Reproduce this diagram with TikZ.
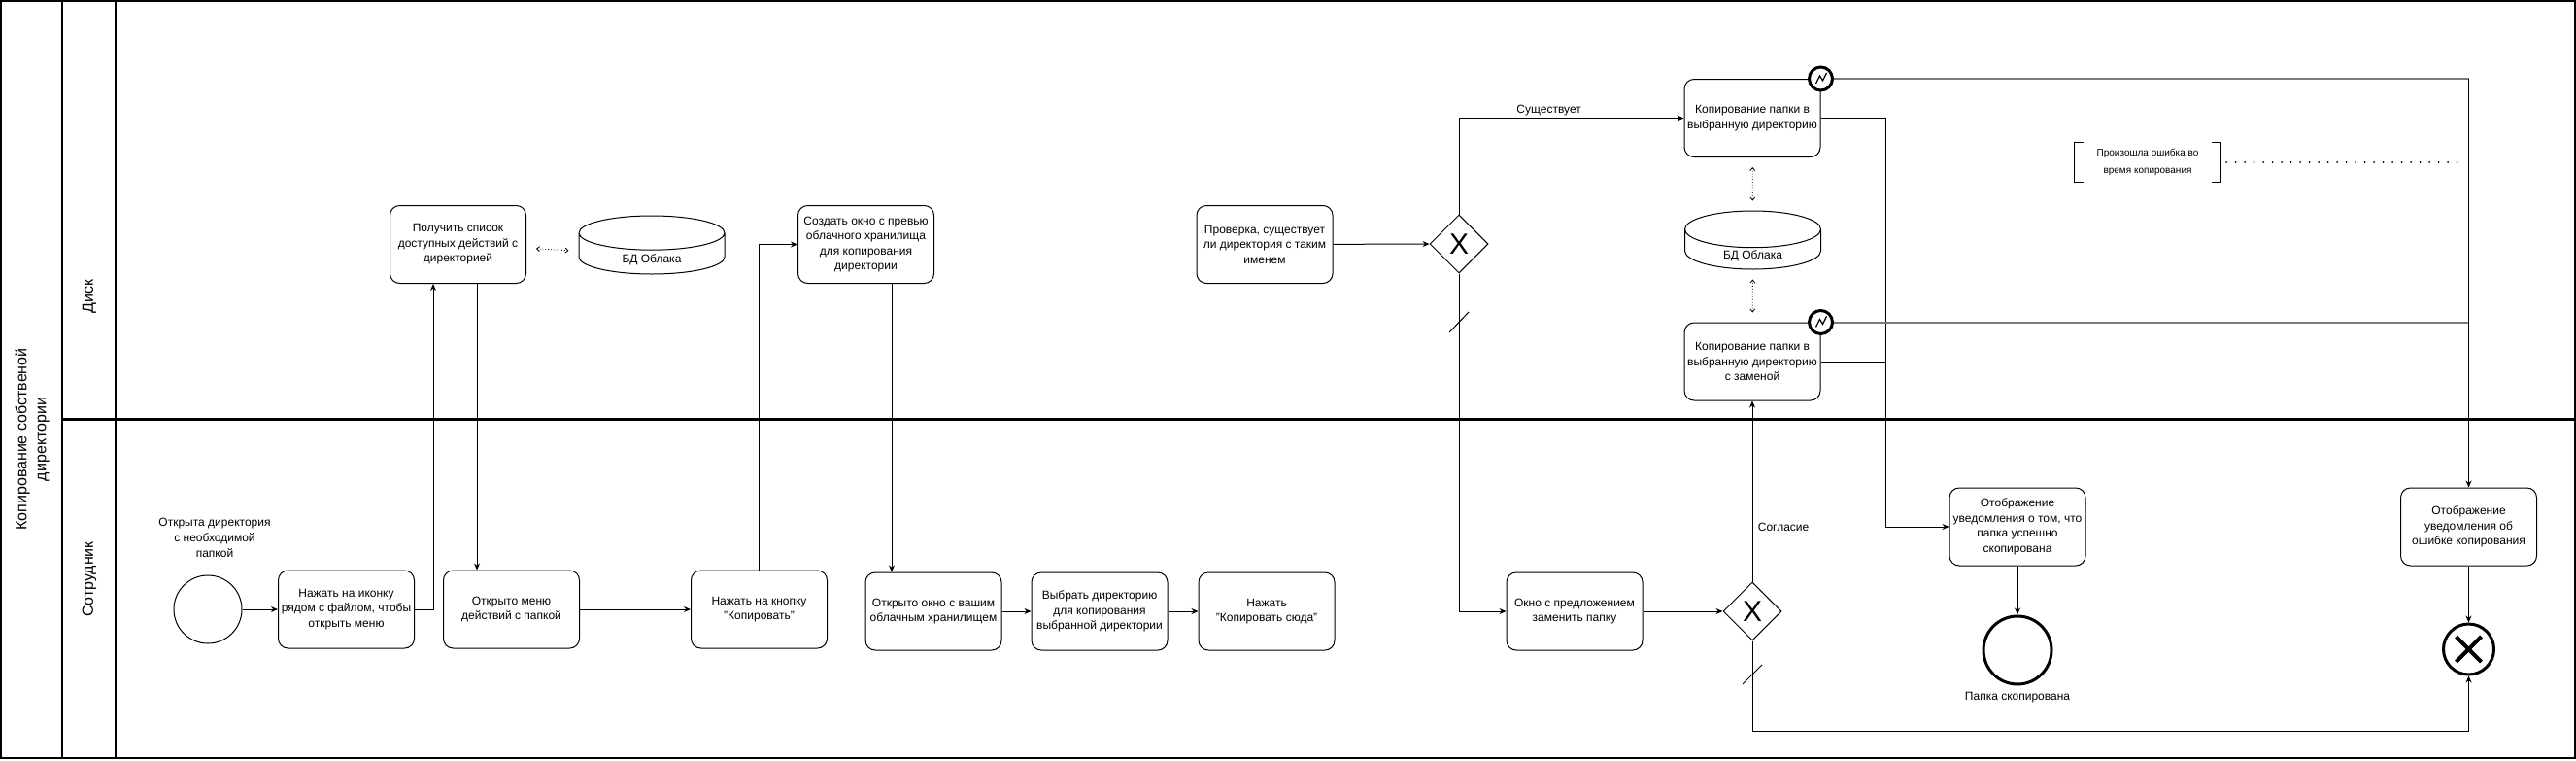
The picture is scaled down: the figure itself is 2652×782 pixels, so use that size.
\documentclass[tikz,border=0pt]{standalone}
\usepackage{fontspec}
\setmainfont{Liberation Sans}
\usetikzlibrary{arrows.meta, shapes.geometric, positioning, calc}
\definecolor{boundarygray}{HTML}{7A7A7A}
\newcommand{\dblabel}[1]{\raisebox{-8.5pt}[0pt][0pt]{#1}}
\tikzset{
  align=center,
  task/.style={draw, rounded corners=10pt, minimum width=140pt, minimum height=80pt, inner sep=1pt, line width=1pt, font=\fontsize{12}{15.5}\selectfont},
  gate/.style={draw, diamond, minimum width=60pt, minimum height=60pt, inner sep=0pt, line width=1pt, font=\fontsize{30}{30}\selectfont},
  dbstore/.style={draw, cylinder, shape border rotate=90, aspect=0.6, minimum width=140pt, minimum height=60pt, inner sep=1pt, line width=1pt, anchor=shape center, font=\fontsize{12}{15.5}\selectfont},
  startev/.style={draw, circle, minimum size=70pt, line width=1pt},
  endev/.style={draw, circle, minimum size=70pt, line width=3pt},
  errend/.style={draw, circle, minimum size=52pt, line width=3pt},
  boundev/.style={draw, circle, fill=white, minimum size=24pt, inner sep=0pt, line width=3pt},
  flow/.style={-{Stealth[length=7pt,width=6pt]}, line width=1pt},
  plain/.style={line width=1pt},
  assoc/.style={{Straight Barb[length=3pt,width=5pt]}-{Straight Barb[length=3pt,width=5pt]}, dotted, line width=0.8pt, shorten <=10pt, shorten >=10pt},
  errflow/.style={line width=2pt, boundarygray},
  lbl/.style={font=\fontsize{12}{16}\selectfont},
  lanelbl/.style={rotate=90, font=\fontsize{16}{20}\selectfont}
}

\begin{document}
\begin{tikzpicture}[x=1pt, y=-1pt]
  \useasboundingbox (0,0) rectangle (2652,782);

  % pool and lanes
  \draw[line width=2pt] (1,1) rectangle (2651,780);
  \draw[line width=2pt] (64,1) -- (64,780);
  \draw[line width=2pt] (119,1) -- (119,780);
  \draw[line width=3pt] (64,431) -- (2651,431);
  \node[lanelbl] (pooltitle) at (33,452) {Копирование собственой\\директории};
  \node[lanelbl] (lanedisk) at (92,305) {Диск};
  \node[lanelbl] (laneemp) at (92,596) {Сотрудник};

  % employee lane
  \node[startev] (start) at (214,627) {};
  \node[lbl] (startlbl) at (221,553) {Открыта директория\\с необходимой\\папкой};
  \node[task] (clickicon) at (356.5,627) {Нажать на иконку\\рядом с файлом, чтобы\\открыть меню};
  \node[task] (menuopen) at (526.5,627) {Открыто меню\\действий с папкой};
  \node[task] (clickcopy) at (781.5,627) {Нажать на кнопку\\"Копировать"};
  \node[task] (cloudwin) at (961,629) {Открыто окно с вашим\\облачным хранилищем};
  \node[task, right=30pt of cloudwin] (pickdir) {Выбрать директорию\\для копирования\\выбранной директории};
  \node[task, right=31pt of pickdir] (copyhere) {Нажать\\"Копировать сюда"};
  \node[task] (replacewin) at (1621,629) {Окно с предложением\\заменить папку};
  \node[gate] (gwreplace) at (1804,629) {X};
  \node[task] (okmsg) at (2077,542) {Отображение\\уведомления о том, что\\папка успешно\\скопирована};
  \node[endev] (endok) at (2077,669) {};
  \node[lbl, below=3pt of endok] (endoklbl) {Папка скопирована};
  \node[task] (errmsg) at (2541.5,542) {Отображение\\уведомления об\\ошибке копирования};
  \node[errend] (enderr) at (2541.5,668) {};
  \draw[line width=4pt] ([shift={(-13,-13)}]enderr.center) -- ([shift={(13,13)}]enderr.center);
  \draw[line width=4pt] ([shift={(-13,13)}]enderr.center) -- ([shift={(13,-13)}]enderr.center);

  % disk lane
  \node[task] (getactions) at (471.5,251.5) {Получить список\\доступных действий с\\директорией};
  \node[dbstore, minimum width=150pt, aspect=0.56] (clouddb) at (671,252) {\dblabel{БД Облака}};
  \node[task] (preview) at (891.5,251.5) {Создать окно с превью\\облачного хранилища\\для копирования\\директории};
  \node[task] (checkname) at (1302,251.5) {Проверка, существует\\ли директория с таким\\именем};
  \node[gate] (gwexists) at (1502,251) {X};
  \node[task] (copyfolder) at (1804,121.5) {Копирование папки в\\выбранную директорию};
  \node[dbstore] (clouddbb) at (1804.5,247) {\dblabel{БД Облака}};
  \node[task] (copyreplace) at (1804,372) {Копирование папки в\\выбранную директорию\\с заменой};
  \node[font=\fontsize{10}{18}\selectfont, minimum width=150pt, minimum height=40pt] (errnote) at (2211,167) {Произошла ошибка во\\время копирования};
  \draw[plain] ([xshift=9pt]errnote.north west) -- (errnote.north west) -- (errnote.south west) -- ([xshift=9pt]errnote.south west);
  \draw[plain] ([xshift=-9pt]errnote.north east) -- (errnote.north east) -- (errnote.south east) -- ([xshift=-9pt]errnote.south east);

  \coordinate (donejoin) at (1941,542);
  \coordinate (lowrun) at (1804,752);
  \coordinate (errcorner) at (2541.5,82);

  % sequence flows
  \draw[flow] (start) -- (clickicon);
  \draw[flow] (clickicon.east) -| ([xshift=-25.5pt]getactions.south);
  \draw[flow] ([xshift=19.5pt]getactions.south) -- ([xshift=19.5pt]getactions.south |- menuopen.north);
  \draw[assoc] (getactions) -- (clouddb);
  \draw[flow] (menuopen) -- (clickcopy);
  \draw[flow] (clickcopy.north) |- (preview.west);
  \draw[flow] ([xshift=26.5pt]preview.south) -- ([xshift=26.5pt]preview.south |- cloudwin.north);
  \draw[flow] (cloudwin) -- (pickdir);
  \draw[flow] (pickdir) -- (copyhere);
  \draw[flow] (checkname) -- (gwexists);
  \draw[flow] (gwexists.north) |- node[lbl, above, pos=0.70, inner sep=2pt] {Существует} (copyfolder.west);
  \draw[flow] (gwexists.south) |- (replacewin.west);
  \draw[plain] ([shift={(-10,91)}]gwexists.center) -- ([shift={(10,70)}]gwexists.center);
  \draw[flow] (replacewin) -- (gwreplace);
  \draw[flow] (gwreplace.north) -- node[lbl, right, pos=0.30, xshift=2pt] {Согласие} (copyreplace.south);
  \draw[flow] (gwreplace.south) -- (lowrun) -| (enderr.south);
  \draw[plain] ([shift={(-10,75)}]gwreplace.center) -- ([shift={(10,55)}]gwreplace.center);
  \draw[assoc] (copyfolder) -- (clouddbb);
  \draw[assoc] (clouddbb) -- (copyreplace);
  \draw[flow] (copyfolder.east) -| (donejoin) -- (okmsg.west);
  \draw[plain] (copyreplace.east) -- (copyreplace.east -| donejoin);
  \draw[flow] (okmsg) -- (endok);
  \draw[flow] (errmsg) -- (enderr);

  % error boundary events
  \node[boundev] (errtop) at (copyfolder.north east) {};
  \node[boundev] (errrepl) at (copyreplace.north east) {};
  \draw[line width=1.2pt] ([shift={(-5,5)}]errtop.center) -- ([shift={(-1,-3)}]errtop.center) -- ([shift={(2,2)}]errtop.center) -- ([shift={(6,-6)}]errtop.center);
  \draw[line width=1.2pt] ([shift={(-5,5)}]errrepl.center) -- ([shift={(-1,-3)}]errrepl.center) -- ([shift={(2,2)}]errrepl.center) -- ([shift={(6,-6)}]errrepl.center);
  \draw[errflow] (errtop.east) -- (errtop.east -| errcorner);
  \draw[errflow] (errrepl.east) -- (errrepl.east -| errcorner);
  \draw[flow] (errtop.east -| errcorner) -- (errmsg.north);
  \draw[line width=2pt, line cap=round, dash pattern=on 0pt off 9.5pt] ([xshift=6pt]errnote.east) -- ($(errnote.east -| errcorner)+(-5,0)$);
\end{tikzpicture}
\end{document}
